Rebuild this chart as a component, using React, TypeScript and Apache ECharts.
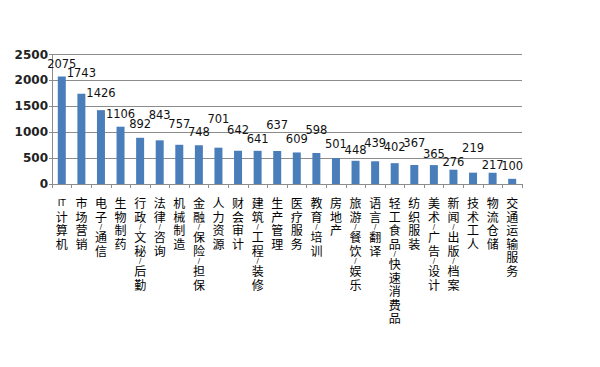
import React, { useEffect, useRef } from "react";
import * as echarts from "echarts";

const categories = [
  "IT计算机", "市场营销", "电子/通信", "生物制药", "行政/文秘/后勤", "法律/咨询",
  "机械制造", "金融/保险/担保", "人力资源", "财会审计", "建筑/工程/装修", "生产管理",
  "医疗服务", "教育/培训", "房地产", "旅游/餐饮/娱乐", "语言/翻译", "轻工食品/快速消费品",
  "纺织服装", "美术/广告/设计", "新闻/出版/档案", "技术工人", "物流仓储", "交通运输服务",
];
const values = [
  2075, 1743, 1426, 1106, 892, 843, 757, 748, 701, 642, 641, 637,
  609, 598, 501, 448, 439, 402, 367, 365, 276, 219, 217, 100,
];
const yMax = 2500;
const yStep = 500;

// label distance above each bar (styling only)
const labelLift = [7, 15, 11, 7, 8, 19, 15, 7, 23, 15, 6, 20, 7, 17, 8, 5, 12, 10, 16, 5, 2, 19, 2, 7];

function verticalLabel(s: string): string {
  const tokens = s.match(/[A-Za-z]+|\/|./gu) || [];
  return tokens
    .map((t) => (t === "/" ? `{s|${t}}` : /[A-Za-z]/.test(t) ? `{l|${t}}` : `{c|${t}}`))
    .join("\n");
}

export default function App() {
  const ref = useRef<HTMLDivElement>(null);
  useEffect(() => {
    const chart = echarts.init(ref.current!, null, { renderer: "svg" });
    const grey = "#8c8c8c";
    chart.setOption({
      animation: false,
      backgroundColor: "#ffffff",
      grid: { left: 52, right: 78, top: 54.5, bottom: 183, containLabel: false },
      xAxis: {
        type: "category",
        data: categories,
        axisLine: { lineStyle: { color: grey, width: 1 } },
        axisTick: { show: true, alignWithLabel: false, length: 4, lineStyle: { color: grey } },
        axisLabel: {
          interval: 0,
          margin: 12,
          formatter: (v: string) => verticalLabel(v),
          rich: {
            c: { fontSize: 12, lineHeight: 13.5, color: "#000", fontFamily: "Noto Sans CJK SC" },
            s: { fontSize: 7, lineHeight: 7, color: "#000", fontFamily: "DejaVu Sans" },
            l: { fontSize: 9, lineHeight: 13.5, color: "#000", fontFamily: "DejaVu Sans" },
          },
        },
      },
      yAxis: {
        type: "value",
        min: 0,
        max: yMax,
        interval: yStep,
        axisLine: { show: true, lineStyle: { color: grey, width: 1 } },
        axisTick: { show: true, length: 3, lineStyle: { color: grey } },
        axisLabel: {
          margin: 4,
          fontSize: 12,
          fontWeight: "bold",
          color: "#222",
          fontFamily: "DejaVu Sans",
          formatter: (v: number) => String(v),
        },
        splitLine: { show: true, lineStyle: { color: grey, width: 1 } },
      },
      series: [
        {
          type: "bar",
          barWidth: 8,
          itemStyle: { color: "#4A7EBB" },
          data: values.map((v, i) => ({
            value: v,
            label: { distance: labelLift[i] },
          })),
          label: {
            show: true,
            position: "top",
            fontSize: 11.5,
            color: "#111",
            fontFamily: "DejaVu Sans",
          },
        },
      ],
    });
    return () => chart.dispose();
  }, []);
  return (
    <div
      ref={ref}
      style={{ position: "fixed", left: 0, top: 0, width: 600, height: 367, background: "#fff" }}
    />
  );
}
